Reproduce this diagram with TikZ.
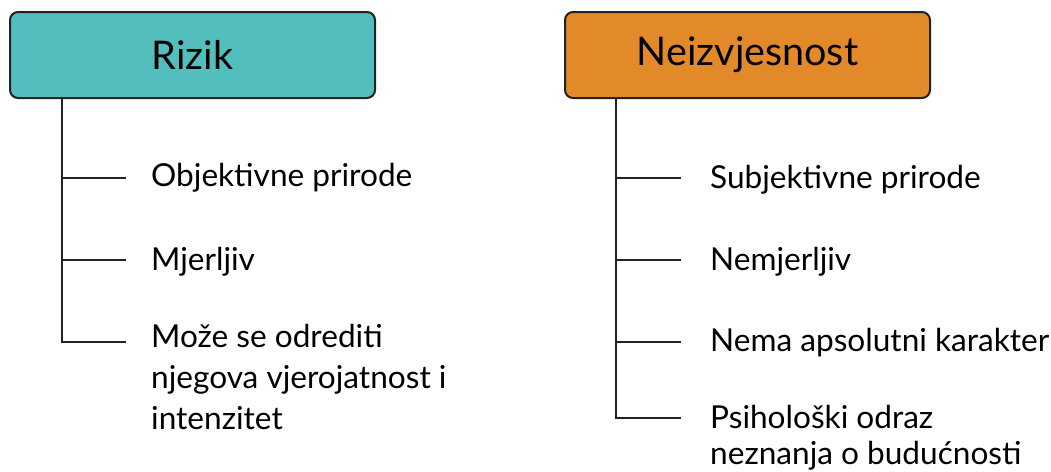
\documentclass[tikz,border=0pt]{standalone}
\usepackage{fontspec}
\setmainfont{Lato}
\usetikzlibrary{positioning}

\definecolor{riskteal}{HTML}{52BFBE}
\definecolor{unsureorange}{HTML}{E2892A}
\definecolor{edgegray}{HTML}{222222}

\begin{document}
\begin{tikzpicture}[x=1pt,y=-1pt,
                    head box/.style={draw=edgegray,line width=2pt,rounded corners=8pt,
                      minimum width=365pt,minimum height=86pt,
                      font=\fontsize{39.5}{44}\selectfont},
                    item/.style={inner sep=0pt,align=left,
                      font=\fontsize{31.6}{41}\selectfont},
                    tick/.style={line width=1.6pt,edgegray}]
\useasboundingbox (0,0) rectangle (1051,471);

\node[head box,fill=riskteal] (rizik) at (192.5,55) {Rizik};
\node[head box,fill=unsureorange] (neizv) at (747.5,55) {Neizvjesnost};

% left column
\node[item,anchor=base west] (r1) at (151,186) {Objektivne prirode};
\node[item,anchor=base west] (r2) at (151,270) {Mjerljiv};
\node[item,anchor=north west] (r3) at (151,324) {Može se odrediti\\njegova vjerojatnost i\\intenzitet};
\coordinate (rtop) at (rizik.south west -| 62,0);
\coordinate (r1end) at (126,178);
\coordinate (r2end) at (126,260);
\coordinate (r3end) at (126,342);
\draw[tick] (rtop) -- (rtop |- r3end) -- (r3end);
\draw[tick] (rtop |- r1end) -- (r1end);
\draw[tick] (rtop |- r2end) -- (r2end);

% right column
\node[item,anchor=base west] (n1) at (710,188) {Subjektivne prirode};
\node[item,anchor=base west] (n2) at (710,270) {Nemjerljiv};
\node[item,anchor=base west] (n3) at (710,351) {Nema apsolutni karakter};
\node[item,anchor=north west,font=\fontsize{31.6}{36}\selectfont] (n4) at (710,405) {Psihološki odraz\\neznanja o budućnosti};
\coordinate (ntop) at (neizv.south west -| 616,0);
\coordinate (n1end) at (681,178);
\coordinate (n2end) at (681,260);
\coordinate (n3end) at (681,342);
\coordinate (n4end) at (681,418);
\draw[tick] (ntop) -- (ntop |- n4end) -- (n4end);
\draw[tick] (ntop |- n1end) -- (n1end);
\draw[tick] (ntop |- n2end) -- (n2end);
\draw[tick] (ntop |- n3end) -- (n3end);

\end{tikzpicture}
\end{document}
